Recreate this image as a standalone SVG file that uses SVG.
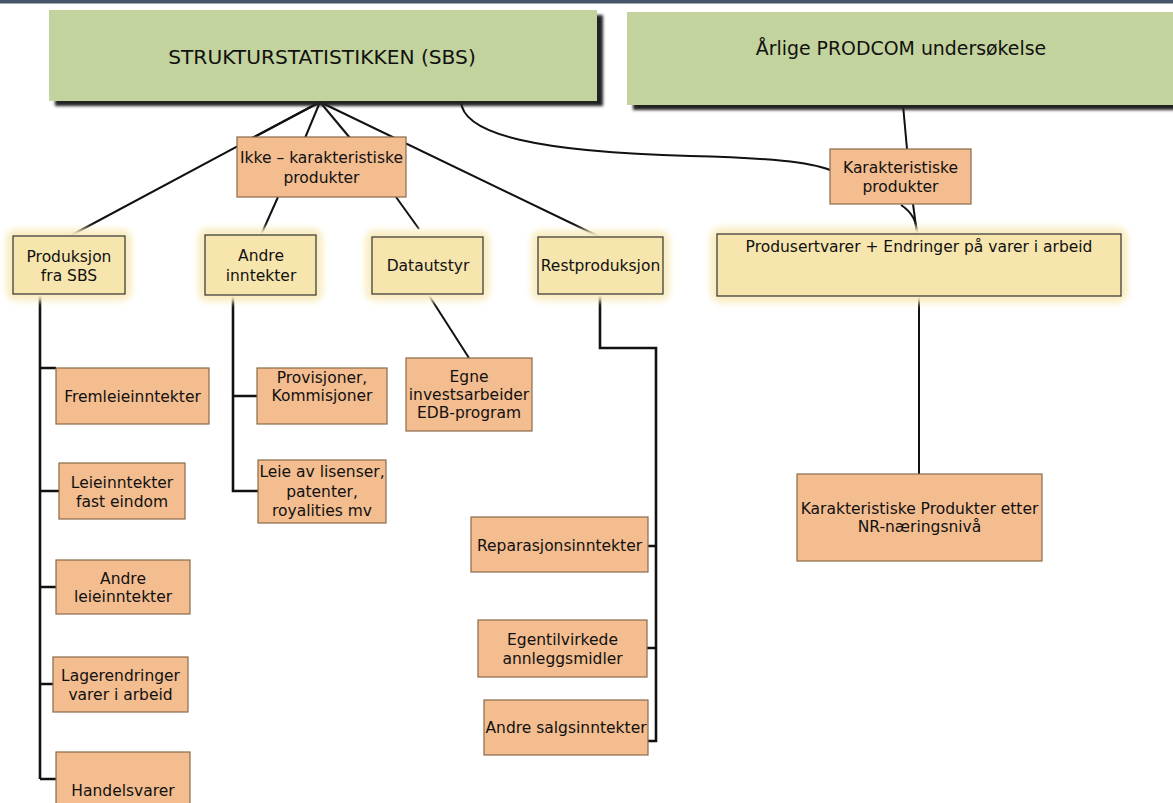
<svg xmlns="http://www.w3.org/2000/svg" width="1173" height="803" viewBox="0 0 1173 803">
  <defs>
    <filter id="shadow" x="-5%" y="-10%" width="115%" height="130%">
      <feDropShadow dx="6" dy="5" stdDeviation="1.4" flood-color="#222" flood-opacity="1"/>
    </filter>
    <filter id="glow" x="-10%" y="-30%" width="120%" height="160%">
      <feGaussianBlur stdDeviation="3"/>
    </filter>
  </defs>
  <style>
    text { font-family: "DejaVu Sans", Verdana, sans-serif; font-size: 15.5px; fill: #111; text-anchor: middle; }
    .title-sbs { font-size: 20.2px; }
    .title-prodcom { font-size: 18.9px; }
    .green { fill: #c3d39d; }
    .peach { fill: #f3bd8f; stroke: #8a6a4a; stroke-width: 1.2; }
    .yellow { fill: #f6e5ad; stroke: #333; stroke-width: 1.2; }
    .halo { fill: #f9edc2; filter: url(#glow); }
    .link { fill: none; stroke: #111; stroke-width: 2; }
    .spine { fill: none; stroke: #111; stroke-width: 2.6; }
  </style>

  <rect x="0" y="0" width="1173" height="3.5" fill="#44546a"/>

  <!-- connectors -->
  <g id="connectors">
    <line class="link" x1="88" y1="102" x2="320" y2="102"/>
    <line class="link" x1="320" y1="102" x2="252" y2="138"/>
    <line class="link" x1="320" y1="102" x2="305" y2="138"/>
    <line class="link" x1="320" y1="102" x2="350" y2="138"/>
    <line class="link" x1="320" y1="102" x2="68" y2="237"/>
    <line class="link" x1="320" y1="102" x2="600" y2="237"/>
    <line class="link" x1="278" y1="197" x2="261" y2="235"/>
    <line class="link" x1="396" y1="197" x2="419" y2="229"/>
    <line class="link" x1="428" y1="294" x2="469" y2="358"/>
    <path class="link" d="M461,101 C462,135 540,152 690,156 C770,158 810,162 830,170"/>
    <line class="link" x1="903" y1="105" x2="907" y2="149"/>
    <line class="link" x1="913" y1="204" x2="917" y2="234"/>
    <path class="link" d="M901,205 C912,212 917,222 917,234"/>
    <line class="link" x1="919" y1="296" x2="919" y2="474"/>
    <!-- spine under Produksjon fra SBS -->
    <path class="spine" d="M40,294 V779 M40,368 H56 M40,491 H59 M40,587 H56 M40,684 H53 M40,779 H56"/>
    <!-- spine under Andre inntekter -->
    <path class="spine" d="M233,295 V491 H258 M233,396 H257"/>
    <!-- spine under Restproduksjon -->
    <path class="spine" d="M600,294 V348 H656 V741 H648 M656,546 H648 M656,648 H647"/>
  </g>

  <!-- top level -->
  <g id="sbs">
    <rect class="green" x="49" y="10" width="548" height="91" filter="url(#shadow)"/>
    <text class="title-sbs" x="322" y="64">STRUKTURSTATISTIKKEN (SBS)</text>
  </g>
  <g id="prodcom">
    <rect class="green" x="627" y="12" width="560" height="93" filter="url(#shadow)"/>
    <text class="title-prodcom" x="901" y="55">Årlige PRODCOM undersøkelse</text>
  </g>

  <g id="ikke-karakteristiske">
    <rect class="peach" x="237" y="137" width="169" height="60"/>
    <text x="321.5" y="163">Ikke – karakteristiske</text>
    <text x="321.5" y="183">produkter</text>
  </g>
  <g id="karakteristiske">
    <rect class="peach" x="830" y="149" width="141" height="55"/>
    <text x="900.5" y="173">Karakteristiske</text>
    <text x="900.5" y="192">produkter</text>
  </g>

  <!-- second level -->
  <g id="produksjon-sbs">
    <rect class="halo" x="6" y="229" width="126" height="72" rx="10"/>
    <rect class="yellow" x="13" y="236" width="112" height="58"/>
    <text x="69" y="262">Produksjon</text>
    <text x="69" y="281">fra SBS</text>
  </g>
  <g id="andre-inntekter">
    <rect class="halo" x="198" y="228" width="125" height="74" rx="10"/>
    <rect class="yellow" x="205" y="235" width="111" height="60"/>
    <text x="261" y="261">Andre</text>
    <text x="261" y="281">inntekter</text>
  </g>
  <g id="datautstyr">
    <rect class="halo" x="365" y="230" width="125" height="71" rx="10"/>
    <rect class="yellow" x="372" y="237" width="111" height="57"/>
    <text x="428" y="271">Datautstyr</text>
  </g>
  <g id="restproduksjon">
    <rect class="halo" x="531" y="230" width="139" height="71" rx="10"/>
    <rect class="yellow" x="538" y="237" width="125" height="57"/>
    <text x="600.5" y="271">Restproduksjon</text>
  </g>
  <g id="produsertvarer">
    <rect class="halo" x="710" y="227" width="418" height="76" rx="12"/>
    <rect class="yellow" x="717" y="234" width="404" height="62"/>
    <text x="919" y="252">Produsertvarer + Endringer på varer i arbeid</text>
  </g>

  <!-- Produksjon fra SBS -->
  <g id="fremleieinntekter">
    <rect class="peach" x="56" y="368" width="153" height="56"/>
    <text x="132.5" y="402">Fremleieinntekter</text>
  </g>
  <g id="leieinntekter-fast-eindom">
    <rect class="peach" x="59" y="463" width="126" height="56"/>
    <text x="122" y="488">Leieinntekter</text>
    <text x="122" y="507">fast eindom</text>
  </g>
  <g id="andre-leieinntekter">
    <rect class="peach" x="56" y="560" width="134" height="54"/>
    <text x="123" y="584">Andre</text>
    <text x="123" y="602">leieinntekter</text>
  </g>
  <g id="lagerendringer">
    <rect class="peach" x="53" y="657" width="135" height="55"/>
    <text x="120.5" y="681">Lagerendringer</text>
    <text x="120.5" y="700">varer i arbeid</text>
  </g>
  <g id="handelsvarer">
    <rect class="peach" x="56" y="752" width="134" height="60"/>
    <text x="123" y="796">Handelsvarer</text>
  </g>

  <!-- Andre inntekter -->
  <g id="provisjoner">
    <rect class="peach" x="257" y="368" width="130" height="56"/>
    <text x="322" y="383">Provisjoner,</text>
    <text x="322" y="401">Kommisjoner</text>
  </g>
  <g id="leie-av-lisenser">
    <rect class="peach" x="258" y="460" width="128" height="63"/>
    <text x="322" y="477">Leie av lisenser,</text>
    <text x="322" y="497">patenter,</text>
    <text x="322" y="516">royalities mv</text>
  </g>

  <!-- Datautstyr -->
  <g id="egne-investsarbeider">
    <rect class="peach" x="406" y="358" width="126" height="73"/>
    <text x="469" y="382">Egne</text>
    <text x="469" y="400">investsarbeider</text>
    <text x="469" y="418">EDB-program</text>
  </g>

  <!-- Restproduksjon -->
  <g id="reparasjonsinntekter">
    <rect class="peach" x="471" y="517" width="177" height="55"/>
    <text x="559.5" y="551">Reparasjonsinntekter</text>
  </g>
  <g id="egentilvirkede">
    <rect class="peach" x="478" y="620" width="169" height="57"/>
    <text x="562.5" y="645">Egentilvirkede</text>
    <text x="562.5" y="664">annleggsmidler</text>
  </g>
  <g id="andre-salgsinntekter">
    <rect class="peach" x="484" y="700" width="164" height="55"/>
    <text x="566" y="733">Andre salgsinntekter</text>
  </g>

  <!-- PRODCOM branch -->
  <g id="nr-naeringsniva">
    <rect class="peach" x="797" y="474" width="245" height="87"/>
    <text x="919.5" y="514">Karakteristiske Produkter etter</text>
    <text x="919.5" y="532">NR-næringsnivå</text>
  </g>
</svg>
